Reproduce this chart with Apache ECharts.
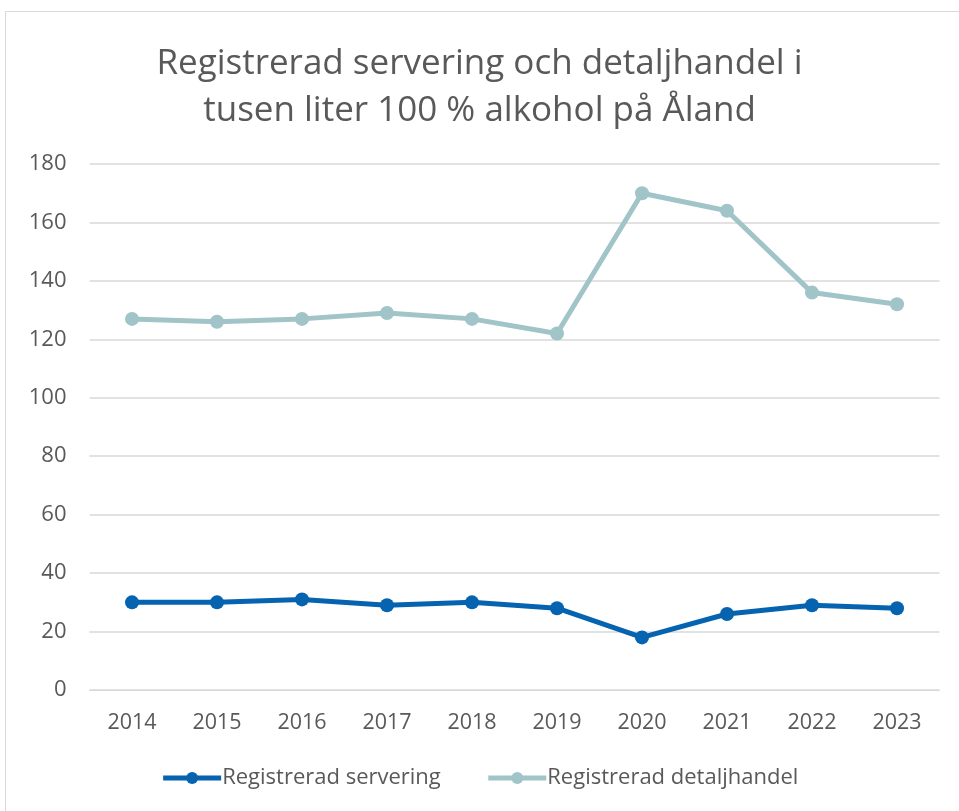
<!DOCTYPE html>
<html>
<head>
<meta charset="utf-8">
<script src="https://cdn.jsdelivr.net/npm/echarts@6/dist/echarts.min.js"></script>
<style>
    html, body { margin: 0; padding: 0; background: #fff; }
    #chart { width: 959px; height: 811px; }
</style>
</head>
<body>
<div id="chart"></div>
<script>
var years = ['2014', '2015', '2016', '2017', '2018', '2019', '2020', '2021', '2022', '2023'];
var servering = [30, 30, 31, 29, 30, 28, 18, 26, 29, 28];
var detaljhandel = [127, 126, 127, 129, 127, 122, 170, 164, 136, 132];
var seriesNames = ['Registrerad servering', 'Registrerad detaljhandel'];
var seriesColors = ['#0563B0', '#A0C4C8'];

var textColor = '#595959';
var fontFam = '"Open Sans", "Noto Sans", sans-serif';

var chart = echarts.init(document.getElementById('chart'));

function lineSeries(name, data, color) {
    return {
        name: name,
        type: 'line',
        data: data,
        symbol: 'circle',
        symbolSize: 14,
        lineStyle: { width: 5, color: color },
        itemStyle: { color: color },
        emphasis: { disabled: true },
        animation: false
    };
}

chart.setOption({
    backgroundColor: '#fff',
    textStyle: { fontFamily: fontFam },
    title: {
        text: 'Registrerad servering och detaljhandel i\ntusen liter 100 % alkohol på Åland',
        left: 'center',
        top: 36,
        textStyle: { fontSize: 35, fontWeight: 'normal', color: textColor, lineHeight: 47, fontFamily: fontFam }
    },
    //ram runt diagrammet
    graphic: [{
        type: 'rect',
        shape: { x: 5.5, y: 11.5, width: 970, height: 820 },
        style: { fill: 'none', stroke: '#D9D9D9', lineWidth: 1 },
        silent: true
    }],
    legend: {
        data: seriesNames,
        bottom: 17,
        left: 'center',
        itemWidth: 58,
        itemHeight: 15,
        itemGap: 45,
        lineStyle: { width: 5 },
        textStyle: { fontSize: 22, color: textColor, padding: [0, 0, 0, -4] }
    },
    grid: { left: 89.5, right: 19.5, top: 164, bottom: 121, containLabel: false },
    xAxis: {
        type: 'category',
        data: years,
        boundaryGap: true,
        axisLine: { lineStyle: { color: '#D9D9D9', width: 1 } },
        axisTick: { show: false },
        axisLabel: { color: textColor, fontSize: 21.5, margin: 22 }
    },
    yAxis: {
        type: 'value',
        min: 0,
        max: 180,
        interval: 20,
        axisLine: { show: false },
        axisTick: { show: false },
        axisLabel: { color: textColor, fontSize: 22, margin: 23 },
        splitLine: { lineStyle: { color: '#D9D9D9', width: 1.5 } }
    },
    series: [
        lineSeries(seriesNames[0], servering, seriesColors[0]),
        lineSeries(seriesNames[1], detaljhandel, seriesColors[1])
    ]
});
</script>
</body>
</html>
